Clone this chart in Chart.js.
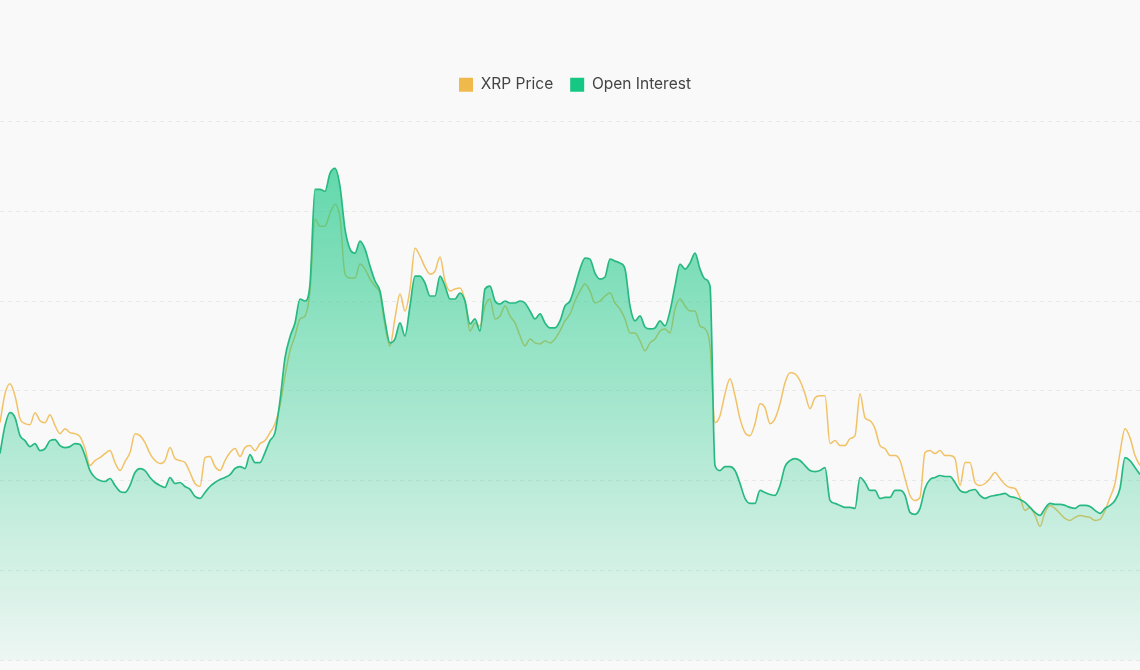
<!DOCTYPE html>
<html lang="en">
  <head>
    <meta charset="UTF-8" />
    <title>XRP Price vs Open Interest</title>
    <style>
      * {
        margin: 0;
        padding: 0;
        box-sizing: border-box;
      }
      body {
        background-color: #f9f9f9;
      }
      .wrap {
        width: 1140px;
        height: 670px;
      }
    </style>
  </head>
  <body>
    <div class="wrap">
      <canvas id="chart"></canvas>
    </div>

    <script src="https://cdn.jsdelivr.net/npm/chart.js"></script>
    <script>
      // open interest, billions USD (one reading every ~5px of the source)
      const openInterest = [
        4.14, 4.70, 4.96, 4.86, 4.50, 4.40, 4.28, 4.34, 4.20, 4.24,
        4.40, 4.42, 4.30, 4.26, 4.28, 4.34, 4.32, 4.10, 3.80, 3.66,
        3.60, 3.58, 3.64, 3.50, 3.38, 3.36, 3.50, 3.76, 3.84, 3.80,
        3.66, 3.56, 3.50, 3.46, 3.66, 3.54, 3.56, 3.48, 3.42, 3.28,
        3.24, 3.36, 3.48, 3.56, 3.62, 3.66, 3.72, 3.84, 3.88, 3.84,
        4.12, 3.96, 3.96, 4.16, 4.40, 4.56, 5.20, 6.06, 6.48, 6.76,
        7.24, 7.20, 7.54, 9.44, 9.44, 9.40, 9.76, 9.86, 9.50, 8.64,
        8.24, 8.16, 8.40, 8.24, 7.90, 7.60, 7.40, 6.80, 6.36, 6.44,
        6.76, 6.50, 7.10, 7.70, 7.70, 7.56, 7.30, 7.30, 7.70, 7.50,
        7.24, 7.24, 7.36, 7.20, 6.74, 6.84, 6.60, 7.44, 7.50, 7.20,
        7.14, 7.20, 7.16, 7.16, 7.20, 7.16, 7.00, 6.84, 6.94, 6.76,
        6.66, 6.66, 6.80, 7.10, 7.20, 7.50, 7.84, 8.06, 8.04, 7.76,
        7.64, 7.68, 8.04, 8.00, 7.96, 7.84, 7.10, 6.80, 6.90, 6.68,
        6.64, 6.66, 6.80, 6.70, 7.00, 7.50, 7.94, 7.84, 7.96, 8.16,
        7.84, 7.64, 7.50, 3.90, 3.80, 3.88, 3.88, 3.80, 3.54, 3.24,
        3.14, 3.14, 3.40, 3.36, 3.32, 3.30, 3.50, 3.88, 4.00, 4.04,
        4.00, 3.90, 3.80, 3.78, 3.80, 3.86, 3.20, 3.14, 3.10, 3.06,
        3.06, 3.04, 3.66, 3.56, 3.40, 3.40, 3.24, 3.26, 3.26, 3.40,
        3.40, 3.30, 2.96, 2.92, 3.04, 3.44, 3.62, 3.66, 3.70, 3.68,
        3.68, 3.56, 3.40, 3.36, 3.40, 3.42, 3.30, 3.24, 3.28, 3.30,
        3.32, 3.34, 3.28, 3.26, 3.22, 3.16, 3.06, 2.96, 2.90, 3.04,
        3.14, 3.12, 3.12, 3.10, 3.06, 3.04, 3.10, 3.10, 3.08, 3.00,
        2.94, 3.04, 3.10, 3.20, 3.44, 4.06, 4.00, 3.86, 3.72
      ];

      // XRP price, USD
      const xrpPrice = [
        2.38, 2.67, 2.77, 2.65, 2.42, 2.37, 2.36, 2.48, 2.40, 2.38,
        2.46, 2.35, 2.27, 2.32, 2.28, 2.27, 2.24, 2.12, 1.95, 2.00,
        2.03, 2.07, 2.10, 1.98, 1.90, 1.99, 2.08, 2.27, 2.25, 2.18,
        2.07, 2.00, 1.97, 2.00, 2.13, 2.02, 2.00, 1.98, 1.88, 1.77,
        1.74, 2.03, 2.04, 1.94, 1.90, 2.00, 2.08, 2.12, 2.04, 2.13,
        2.15, 2.10, 2.17, 2.20, 2.28, 2.37, 2.55, 2.85, 3.10, 3.25,
        3.42, 3.45, 3.70, 4.42, 4.35, 4.35, 4.48, 4.57, 4.43, 3.87,
        3.83, 3.83, 3.97, 3.92, 3.82, 3.75, 3.67, 3.35, 3.15, 3.43,
        3.67, 3.50, 3.72, 4.13, 4.05, 3.94, 3.87, 3.90, 4.04, 3.80,
        3.70, 3.72, 3.73, 3.60, 3.30, 3.38, 3.35, 3.55, 3.62, 3.42,
        3.45, 3.55, 3.45, 3.38, 3.25, 3.15, 3.22, 3.18, 3.17, 3.20,
        3.18, 3.22, 3.30, 3.40, 3.47, 3.60, 3.70, 3.77, 3.70, 3.58,
        3.60, 3.65, 3.68, 3.58, 3.52, 3.42, 3.28, 3.28, 3.20, 3.10,
        3.18, 3.22, 3.30, 3.32, 3.28, 3.52, 3.62, 3.55, 3.50, 3.50,
        3.35, 3.32, 3.15, 2.38, 2.45, 2.67, 2.82, 2.65, 2.42, 2.28,
        2.25, 2.37, 2.57, 2.53, 2.37, 2.42, 2.57, 2.78, 2.88, 2.87,
        2.80, 2.67, 2.52, 2.63, 2.65, 2.65, 2.17, 2.20, 2.15, 2.15,
        2.22, 2.25, 2.67, 2.43, 2.40, 2.32, 2.15, 2.12, 2.05, 2.05,
        2.00, 1.82, 1.65, 1.60, 1.63, 2.08, 2.10, 2.07, 2.10, 2.05,
        2.05, 2.02, 1.75, 1.98, 1.98, 1.78, 1.75, 1.77, 1.82, 1.88,
        1.82, 1.76, 1.73, 1.72, 1.63, 1.50, 1.53, 1.45, 1.34, 1.48,
        1.55, 1.52, 1.47, 1.42, 1.40, 1.43, 1.45, 1.44, 1.43, 1.40,
        1.41, 1.50, 1.63, 1.77, 2.08, 2.32, 2.23, 2.05, 1.95
      ];

      const days = openInterest.map((_, i) => "Day " + (i + 1));
      const oiTicks = [0, 1.8, 3.6, 5.4, 7.2, 9, 10.8];

      const GREEN = "rgb(22, 199, 132)";
      const YELLOW = "rgb(240, 185, 75)";

      function greenFill(context) {
        const chart = context.chart;
        const area = chart.chartArea;
        if (!area) return "rgba(22, 199, 132, 0.3)";
        const g = chart.ctx.createLinearGradient(0, area.top, 0, area.bottom);
        g.addColorStop(0, "rgba(22, 199, 132, 0.72)");
        g.addColorStop(1, "rgba(22, 199, 132, 0.05)");
        return g;
      }

      // push the plot area down under the legend, nudge the legend right a bit
      const legendGap = {
        id: "legendGap",
        beforeInit(chart) {
          const fit = chart.legend.fit;
          chart.legend.fit = function () {
            fit.bind(chart.legend)();
            this.height += 19;
            if (this.lineWidths && this.lineWidths.length) this.lineWidths[0] -= 10;
          };
        },
      };

      const ctx = document.getElementById("chart").getContext("2d");
      const chart = new Chart(ctx, {
        type: "line",
        data: {
          labels: days,
          datasets: [
            {
              label: "XRP Price",
              data: xrpPrice,
              yAxisID: "y1",
              borderColor: "rgba(240, 185, 75, 0.85)",
              backgroundColor: YELLOW,
              borderWidth: 1.5,
              pointRadius: 0,
              fill: false,
              cubicInterpolationMode: "monotone",
              order: 1,
            },
            {
              label: "Open Interest",
              data: openInterest,
              yAxisID: "y",
              borderColor: "rgb(40, 185, 130)",
              backgroundColor: greenFill,
              borderWidth: 1.7,
              pointRadius: 0,
              fill: "origin",
              cubicInterpolationMode: "monotone",
              order: 0,
            },
          ],
        },
        options: {
          responsive: true,
          maintainAspectRatio: false,
          animation: false,
          layout: { padding: { top: 60, bottom: 10, left: 0, right: 0 } },
          plugins: {
            tooltip: { enabled: false },
            legend: {
              position: "top",
              labels: {
                boxWidth: 14,
                boxHeight: 14,
                padding: 17,
                color: "#444",
                font: { family: "Inter", size: 15.5 },
                sort: (a, b) => a.datasetIndex - b.datasetIndex,
                generateLabels(chart) {
                  return chart.data.datasets.map((ds, i) => ({
                    text: ds.label,
                    fillStyle: i === 0 ? YELLOW : GREEN,
                    strokeStyle: "transparent",
                    lineWidth: 0,
                    datasetIndex: i,
                    fontColor: "#444",
                  }));
                },
              },
            },
          },
          scales: {
            x: {
              display: false,
              offset: false,
            },
            y: {
              min: 0,
              max: 10.8,
              afterBuildTicks(scale) {
                scale.ticks = oiTicks.map((v) => ({ value: v }));
              },
              ticks: { display: false },
              border: { display: false, dash: [4, 4] },
              grid: { color: "#e9e9e9", drawTicks: false },
            },
            y1: {
              display: false,
              min: 0,
              max: 5.4,
            },
          },
        },
        plugins: [legendGap],
      });
    </script>
  </body>
</html>
